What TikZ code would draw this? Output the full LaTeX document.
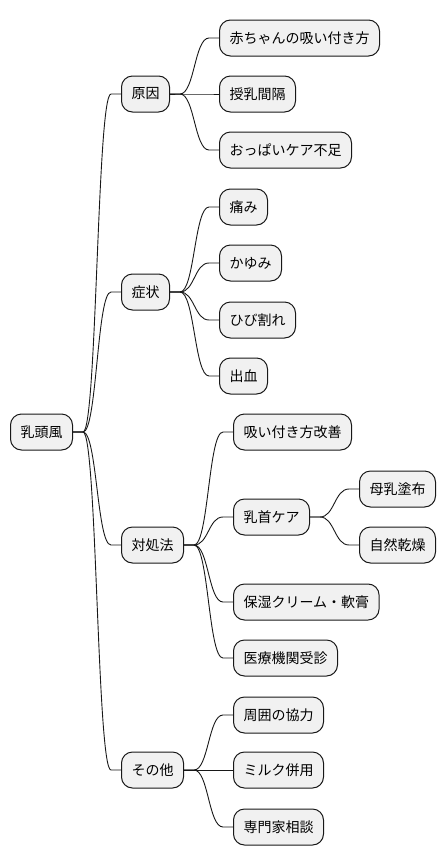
\documentclass[tikz,border=0pt]{standalone}
\usepackage{fontspec}
\setmainfont{Noto Sans CJK JP}
\usetikzlibrary{calc}
\definecolor{boxfill}{HTML}{F1F1F1}
\definecolor{boxline}{HTML}{181818}
\tikzset{
  mmbox/.style={draw=boxline, fill=boxfill, line width=1pt, rounded corners=11pt,
    minimum height=36pt, inner xsep=10pt, inner ysep=0pt, anchor=west,
    font=\fontsize{14pt}{16pt}\selectfont, text=black},
  conn/.style={draw=boxline, line width=0.9pt}
}
\newcommand\mmconn[2]{%
  \draw[conn] let \p1=(#1.east), \p2=(#2.west) in
    (\p1) -- (\x1+10pt,\y1)
    .. controls ({(\x1+\x2)/2},\y1) and ({(\x1+\x2)/2},\y2) ..
    (\x2-10pt,\y2) -- (\p2);}
\begin{document}
\begin{tikzpicture}[x=1pt,y=1pt]
\useasboundingbox (0,0) rectangle (446,-865);
\node[mmbox] (root) at (10,-432) {乳頭風};
\node[mmbox] (a) at (121,-94) {原因};
\node[mmbox] (b) at (121,-292) {症状};
\node[mmbox] (c) at (121,-545) {対処法};
\node[mmbox] (d) at (121,-770) {その他};
\node[mmbox] (a1) at (219,-38) {赤ちゃんの吸い付き方};
\node[mmbox] (a2) at (219,-94) {授乳間隔};
\node[mmbox] (a3) at (219,-150) {おっぱいケア不足};
\node[mmbox] (b1) at (219,-207) {痛み};
\node[mmbox] (b2) at (219,-263) {かゆみ};
\node[mmbox] (b3) at (219,-320) {ひび割れ};
\node[mmbox] (b4) at (219,-376) {出血};
\node[mmbox] (c1) at (233,-432) {吸い付き方改善};
\node[mmbox] (c2) at (233,-517) {乳首ケア};
\node[mmbox] (c3) at (233,-602) {保湿クリーム・軟膏};
\node[mmbox] (c4) at (233,-658) {医療機関受診};
\node[mmbox] (c21) at (359,-489) {母乳塗布};
\node[mmbox] (c22) at (359,-545) {自然乾燥};
\node[mmbox] (d1) at (233,-715) {周囲の協力};
\node[mmbox] (d2) at (233,-770) {ミルク併用};
\node[mmbox] (d3) at (233,-827) {専門家相談};
\mmconn{root}{a}\mmconn{root}{b}\mmconn{root}{c}\mmconn{root}{d}
\mmconn{a}{a1}\mmconn{a}{a2}\mmconn{a}{a3}
\mmconn{b}{b1}\mmconn{b}{b2}\mmconn{b}{b3}\mmconn{b}{b4}
\mmconn{c}{c1}\mmconn{c}{c2}\mmconn{c}{c3}\mmconn{c}{c4}
\mmconn{c2}{c21}\mmconn{c2}{c22}
\mmconn{d}{d1}\mmconn{d}{d2}\mmconn{d}{d3}
\end{tikzpicture}
\end{document}
